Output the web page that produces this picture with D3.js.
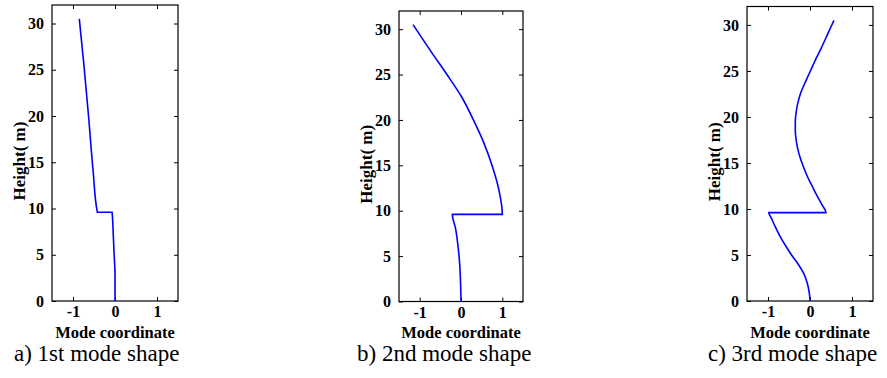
<!DOCTYPE html>
<html><head><meta charset="utf-8">
<script src="https://cdn.jsdelivr.net/npm/d3@7"></script>
<style>html,body{margin:0;padding:0;background:#fff;}</style>
</head><body>
<script>
// ---- data ----
const xTicks = [-1, 0, 1];
const yTicks = [0, 5, 10, 15, 20, 25, 30];
const xLabel = "Mode coordinate";
const yLabel = "Height( m)";
const captions = ["a) 1st mode shape", "b) 2nd mode shape", "c) 3rd mode shape"];
// each mode: [coordinate, height]
const mode1 = [[0,0],[0,3],[-0.02,5],[-0.04,7],[-0.07,9.6],[-0.42,9.6],[-0.52,14],[-0.63,20],[-0.74,25.5],[-0.85,30.5]];
const mode2 = [[0,0],[-0.01,2],[-0.03,4],[-0.07,6],[-0.13,8],[-0.21,9.6],[1.0,9.6],[0.93,12],[0.75,15],[0.55,17.5],[0.3,20],[0.02,22.5],[-0.34,25],[-0.72,27.5],[-1.16,30.5]];
const mode3 = [[0,0],[-0.02,1],[-0.07,2],[-0.15,3],[-0.28,4],[-0.44,5],[-0.58,6],[-0.71,7],[-0.82,8],[-0.92,9],[-0.98,9.6],
  [0.38,9.6],[0.28,10.5],[0.16,11.5],[0.05,12.5],[-0.06,13.5],[-0.15,14.5],[-0.23,15.5],[-0.29,16.5],[-0.33,17.5],[-0.35,18.5],
  [-0.35,19.5],[-0.33,20.5],[-0.29,21.5],[-0.23,22.5],[-0.14,23.5],[-0.04,24.5],[0.06,25.5],[0.16,26.5],[0.27,27.5],[0.37,28.5],[0.47,29.5],[0.57,30.5]];
const modes = [mode1, mode2, mode3];

// ---- layout ----
const W = 887, H = 378;
const boxes = [
  {l:52, r:178, t:5, b:301, cap:14},
  {l:399, r:523, t:11, b:301.5, cap:357},
  {l:747, r:873, t:6.5, b:301, cap:708}
];

const svg = d3.select("body").append("svg").attr("width", W).attr("height", H);
const serif = "'Liberation Serif','Times New Roman',serif";

boxes.forEach((bx, i) => {
  const x = d3.scaleLinear().domain([-1.5, 1.5]).range([bx.l, bx.r]);
  const y = d3.scaleLinear().domain([0, 32]).range([bx.b, bx.t]);
  const g = svg.append("g");
  const tl = 4;
  const ax = g.append("g").attr("transform", `translate(0,${bx.b})`)
    .call(d3.axisBottom(x).tickValues(xTicks).tickSize(-tl).tickPadding(5).tickFormat(d3.format("d")));
  const at = g.append("g").attr("transform", `translate(0,${bx.t})`)
    .call(d3.axisTop(x).tickValues(xTicks).tickSize(-tl).tickFormat(""));
  const ay = g.append("g").attr("transform", `translate(${bx.l},0)`)
    .call(d3.axisLeft(y).tickValues(yTicks).tickSize(-tl).tickPadding(8));
  const ar = g.append("g").attr("transform", `translate(${bx.r},0)`)
    .call(d3.axisRight(y).tickValues(yTicks).tickSize(-tl).tickFormat(""));
  [ax, at, ay, ar].forEach(a => {
    a.select(".domain").remove();
    a.selectAll("line").attr("stroke", "#000").attr("stroke-width", 1);
    a.selectAll("text").attr("font-family", serif).attr("font-weight", "bold")
      .attr("font-size", 16).attr("fill", "#000");
  });
  ax.selectAll("text").text(d => d < 0 ? "-" + Math.abs(d) : d);
  g.append("rect").attr("x", bx.l).attr("y", bx.t).attr("width", bx.r - bx.l).attr("height", bx.b - bx.t)
    .attr("fill", "none").attr("stroke", "#000").attr("stroke-width", 1.2);
  g.append("path").datum(modes[i])
    .attr("d", d3.line().x(d => x(d[0])).y(d => y(d[1])).curve(d3.curveMonotoneY))
    .attr("fill", "none").attr("stroke", "#0000ff").attr("stroke-width", 1.6);
  g.append("text").attr("x", (bx.l + bx.r) / 2).attr("y", 338).attr("text-anchor", "middle")
    .attr("font-family", serif).attr("font-weight", "bold").attr("font-size", 16.5).text(xLabel);
  g.append("text").attr("transform", `translate(${bx.l - 27},${(bx.t + bx.b) / 2 + 8}) rotate(-90)`)
    .attr("text-anchor", "middle").attr("font-family", serif).attr("font-weight", "bold")
    .attr("font-size", 17).text(yLabel);
  g.append("text").attr("x", bx.cap).attr("y", 361).attr("font-family", serif)
    .attr("font-size", 23).text(captions[i]);
});
</script>
</body></html>
